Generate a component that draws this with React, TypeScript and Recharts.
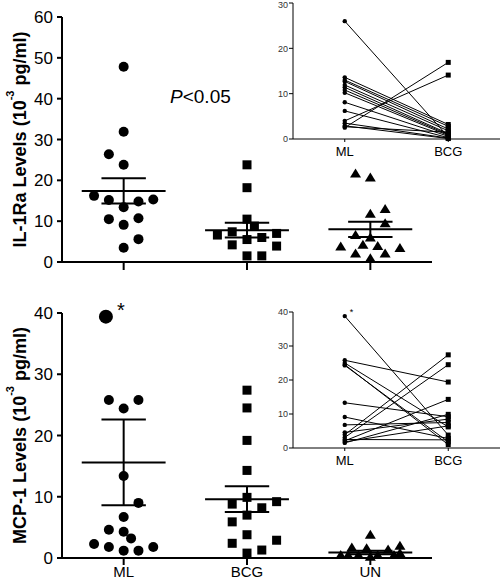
import { ScatterChart, Scatter, LineChart, Line, XAxis, YAxis, ReferenceLine, ReferenceDot } from 'recharts';

const FONT = '"Liberation Sans", Arial, Helvetica, sans-serif';
const groups = ['ML', 'BCG', 'UN'];

// top panel: IL-1Ra levels (10^-3 pg/ml). *Col = jitter column of each dot as seen in the plot
const il1raML = [47.8, 31.9, 26.4, 23.8, 16.2, 15.2, 14.8, 15.3, 13.4, 10.5, 10.7, 9.1, 5.6, 3.5];
const il1raMLCol = [0, 0, -1, 0, -2, -1, 1, 2, 0, -1, 1, 0, 1, 0];
const il1raBCG = [23.8, 18.2, 10.5, 8.8, 6.6, 7.4, 4.2, 5.5, 6.0, 7.0, 3.9, 1.5, 1.5];
const il1raBCGCol = [0, 0, 0, 0.5, -2, -1, -1, 0, 1, 2, 2, 0, 1];
const il1raUN = [21.7, 20.7, 13.0, 11.8, 9.5, 6.6, 6.0, 3.8, 4.2, 3.9, 3.4, 2.1, 2.1, 0.9];
const il1raUNCol = [-1, 0, 1, 0, 1, -1, 0, -2, -0.5, 0.5, 2, -1, 1, 0];
const il1raMean = [17.4, 7.8, 8.0];
const il1raSem = [3.1, 1.8, 1.85];

// bottom panel: MCP-1 levels
const mcp1ML = [25.8, 25.8, 24.4, 13.4, 9.0, 6.7, 4.6, 4.3, 3.2, 2.3, 1.8, 1.8, 1.2, 1.2];
const mcp1MLCol = [-1, 1, 0, 0, 1, 0, -1, 0, 0.5, -2, -1, 2, 0, 1];
const mcp1Outlier = 39.4; // marked with *
const mcp1OutlierCol = -1.2;
const mcp1BCG = [27.4, 24.5, 19.2, 14.3, 9.9, 8.8, 8.2, 9.2, 7.0, 5.9, 3.8, 2.4, 2.9, 1.3, 0.8];
const mcp1BCGCol = [0, 0, 0, 0, 0, -1, 1, 2, 0, -1, 0, -1, 2, 1, 0];
const mcp1UN = [3.8, 2.0, 1.7, 1.6, 1.4, 0.5, 0.5, 0.5, 0.2, 0.5, 0.5, 0.8];
const mcp1UNCol = [0, 2, -1.25, -0.25, 1.2, -2, -1.5, -0.8, 0, 0.5, 1.6, 2];
const mcp1Mean = [15.6, 9.6, 0.9];
const mcp1Sem = [7.0, 2.1, 0.3];

// insets: paired ML -> BCG values
const insetIl1raML = [26.0, 13.6, 13.0, 12.7, 11.9, 11.4, 10.8, 10.2, 8.1, 6.2, 4.0, 3.5, 2.9, 2.5, 2.7];
const insetIl1raBCG = [0.5, 3.2, 2.8, 2.2, 1.8, 1.2, 1.0, 0.8, 0.6, 0.3, 14.1, 0.2, 0.1, 16.9, 1.5];
const insetMcp1ML = [38.8, 25.8, 25.0, 24.3, 24.5, 13.3, 9.1, 6.8, 4.6, 3.9, 3.1, 2.1, 1.5, 2.5, 1.8];
const insetMcp1BCG = [3.8, 19.4, 6.2, 1.8, 1.0, 9.2, 2.8, 7.5, 8.5, 27.4, 24.5, 14.3, 9.9, 2.4, 6.5];

const JITTER = 0.12;
const MEAN_HALF = 0.34;
const CAP_HALF = 0.18;

const toPoints = (vals: number[], cols: number[], g: number) =>
  vals.map((v, i) => ({ x: g + cols[i] * JITTER, y: v }));

const pairRows = (ml: number[], bcg: number[]) =>
  [1, 2].map((x) => {
    const row: Record<string, number> = { x };
    (x === 1 ? ml : bcg).forEach((v, i) => {
      row[`p${i}`] = v;
    });
    return row;
  });

const Circle = (p: any) => <circle cx={p.cx} cy={p.cy} r={5} fill="#000" />;
const BigCircle = (p: any) => <circle cx={p.cx} cy={p.cy} r={7} fill="#000" />;
const Square = (p: any) => <rect x={p.cx - 4.5} y={p.cy - 4.5} width={9} height={9} fill="#000" />;
const Triangle = (p: any) => (
  <polygon points={`${p.cx},${p.cy - 5} ${p.cx + 5.5},${p.cy + 4} ${p.cx - 5.5},${p.cy + 4}`} fill="#000" />
);

const InsetDot = (p: any) =>
  p.payload.x === 1 ? (
    <circle key={`${p.dataKey}-${p.index}`} cx={p.cx} cy={p.cy} r={2.2} fill="#000" />
  ) : (
    <rect key={`${p.dataKey}-${p.index}`} x={p.cx - 2.5} y={p.cy - 2.5} width={5} height={5} fill="#000" />
  );

const AXIS = { stroke: '#000', strokeWidth: 2 };
const THIN = { stroke: '#000', strokeWidth: 1 };

function meanSem(means: number[], sems: number[]) {
  return means.flatMap((m, i) => {
    const g = i + 1;
    const lo = m - sems[i];
    const hi = m + sems[i];
    return [
      <ReferenceLine key={`m${i}`} segment={[{ x: g - MEAN_HALF, y: m }, { x: g + MEAN_HALF, y: m }]} stroke="#000" strokeWidth={2} />,
      <ReferenceLine key={`v${i}`} segment={[{ x: g, y: lo }, { x: g, y: hi }]} stroke="#000" strokeWidth={2} />,
      <ReferenceLine key={`h${i}`} segment={[{ x: g - CAP_HALF, y: hi }, { x: g + CAP_HALF, y: hi }]} stroke="#000" strokeWidth={2} />,
      <ReferenceLine key={`l${i}`} segment={[{ x: g - CAP_HALF, y: lo }, { x: g + CAP_HALF, y: lo }]} stroke="#000" strokeWidth={2} />,
    ];
  });
}

const axisTitle = (name: string) => (props: any) => {
  const vb = props.viewBox;
  const cx = vb.x + 26;
  const cy = vb.y + vb.height / 2;
  return (
    <text
      x={cx}
      y={cy}
      transform={`rotate(-90 ${cx} ${cy})`}
      textAnchor="middle"
      fontFamily={FONT}
      fontWeight="bold"
      fontSize={18}
      fill="#000"
    >
      {name} Levels (10
      <tspan fontSize={11} dy={-12}>
        -3
      </tspan>
      <tspan dy={12}> pg/ml)</tspan>
    </text>
  );
};

const starLabel = (dx: number, dy: number, size: number) => (props: any) => {
  const vb = props.viewBox;
  return (
    <text x={vb.x + 1 + dx} y={vb.y + 1 + dy} fontFamily={FONT} fontSize={size} fill="#000">
      *
    </text>
  );
};

const yTick = { fill: '#000', fontSize: 17, fontFamily: FONT };
const insetTick = { fill: '#333', fontSize: 9, fontFamily: FONT };
const insetName = { fill: '#000', fontSize: 13, fontFamily: FONT };

function Inset({ top, marginTop, ml, bcg, yMax, star }: any) {
  const ticks = Array.from({ length: yMax / 10 + 1 }, (_, i) => i * 10);
  return (
    <div style={{ position: 'absolute', left: 250, top }}>
      <LineChart width={250} height={marginTop + 136 + 21} data={pairRows(ml, bcg)} margin={{ top: marginTop, right: 0, bottom: 0, left: 0 }}>
        <XAxis
          type="number"
          dataKey="x"
          domain={[0.5, 2.5]}
          ticks={[1, 2]}
          tickFormatter={(v: number) => groups[v - 1]}
          height={21}
          tickSize={3}
          tickMargin={4.5}
          axisLine={THIN}
          tickLine={THIN}
          tick={insetName}
        />
        <YAxis
          type="number"
          domain={[0, yMax]}
          ticks={ticks}
          width={43}
          tickSize={4}
          tickMargin={1}
          axisLine={THIN}
          tickLine={THIN}
          tick={insetTick}
        />
        {ml.map((_: number, i: number) => (
          <Line
            key={i}
            type="linear"
            dataKey={`p${i}`}
            stroke="#000"
            strokeWidth={1}
            dot={InsetDot}
            activeDot={false}
            isAnimationActive={false}
          />
        ))}
        {star && <ReferenceDot x={1} y={ml[0]} r={1} fill="none" stroke="none" label={starLabel(5, -1, 9)} />}
      </LineChart>
    </div>
  );
}

export default function App() {
  return (
    <div style={{ position: 'absolute', left: 0, top: 0, width: 500, height: 580, background: '#fff', overflow: 'hidden' }}>
      <div style={{ position: 'absolute', left: 0, top: 0 }}>
        <ScatterChart width={450} height={280} margin={{ top: 17, right: 18, bottom: 0, left: 0 }}>
          <XAxis
            type="number"
            dataKey="x"
            domain={[0.5, 3.5]}
            ticks={[1, 2, 3]}
            tickFormatter={() => ''}
            height={18}
            tickSize={8}
            axisLine={AXIS}
            tickLine={AXIS}
          />
          <YAxis
            type="number"
            dataKey="y"
            domain={[0, 60]}
            ticks={[0, 10, 20, 30, 40, 50, 60]}
            width={62}
            tickSize={5}
            tickMargin={4}
            axisLine={AXIS}
            tickLine={AXIS}
            tick={yTick}
            label={axisTitle('IL-1Ra')}
          />
          {meanSem(il1raMean, il1raSem)}
          <Scatter data={toPoints(il1raML, il1raMLCol, 1)} shape={Circle} isAnimationActive={false} />
          <Scatter data={toPoints(il1raBCG, il1raBCGCol, 2)} shape={Square} isAnimationActive={false} />
          <Scatter data={toPoints(il1raUN, il1raUNCol, 3)} shape={Triangle} isAnimationActive={false} />
        </ScatterChart>
      </div>

      <div style={{ position: 'absolute', left: 0, top: 296 }}>
        <ScatterChart width={450} height={284} margin={{ top: 17, right: 18, bottom: 0, left: 0 }}>
          <XAxis
            type="number"
            dataKey="x"
            domain={[0.5, 3.5]}
            ticks={[1, 2, 3]}
            tickFormatter={(v: number) => groups[v - 1]}
            height={22}
            tickSize={7}
            tickMargin={1}
            axisLine={AXIS}
            tickLine={AXIS}
            tick={{ fill: '#000', fontSize: 15, fontFamily: FONT }}
          />
          <YAxis
            type="number"
            dataKey="y"
            domain={[0, 40]}
            ticks={[0, 10, 20, 30, 40]}
            width={62}
            tickSize={5}
            tickMargin={4}
            axisLine={AXIS}
            tickLine={AXIS}
            tick={yTick}
            label={axisTitle('MCP-1')}
          />
          {meanSem(mcp1Mean, mcp1Sem)}
          <Scatter data={toPoints(mcp1ML, mcp1MLCol, 1)} shape={Circle} isAnimationActive={false} />
          <Scatter data={[{ x: 1 + mcp1OutlierCol * JITTER, y: mcp1Outlier }]} shape={BigCircle} isAnimationActive={false} />
          <Scatter data={toPoints(mcp1BCG, mcp1BCGCol, 2)} shape={Square} isAnimationActive={false} />
          <Scatter data={toPoints(mcp1UN, mcp1UNCol, 3)} shape={Triangle} isAnimationActive={false} />
          <ReferenceDot
            x={1 + mcp1OutlierCol * JITTER}
            y={mcp1Outlier}
            r={1}
            fill="none"
            stroke="none"
            label={starLabel(11, 0, 20)}
          />
        </ScatterChart>
      </div>

      <Inset top={0} marginTop={3} ml={insetIl1raML} bcg={insetIl1raBCG} yMax={30} star={false} />
      <Inset top={300} marginTop={12} ml={insetMcp1ML} bcg={insetMcp1BCG} yMax={40} star={true} />

      <svg width={500} height={580} style={{ position: 'absolute', left: 0, top: 0, pointerEvents: 'none' }}>
        <text x={170} y={103} fontFamily={FONT} fontSize={19} fill="#000">
          <tspan fontStyle="italic">P</tspan>&lt;0.05
        </text>
      </svg>
    </div>
  );
}
